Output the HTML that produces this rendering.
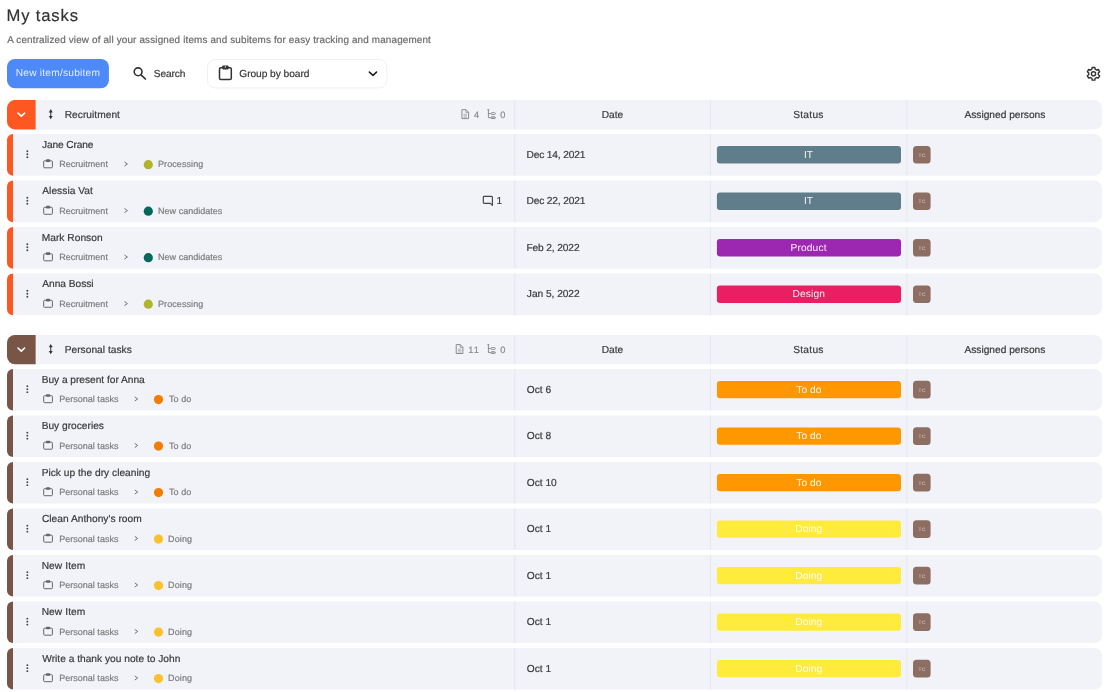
<!DOCTYPE html>
<html lang="en"><head><meta charset="utf-8"><title>My tasks</title>
<style>
html,body{margin:0;padding:0;background:#fff;}
body{width:1110px;height:692px;position:relative;overflow:hidden;font-family:"Liberation Sans", sans-serif;text-rendering:geometricPrecision;}
.bg{position:absolute;left:0;top:0;display:block;}
.t{position:absolute;white-space:pre;line-height:1.2;-webkit-text-stroke:0.2px currentColor;}
</style></head>
<body>
<svg class="bg" width="1110" height="692" viewBox="0 0 1110 692">
<rect x="7.00" y="59.00" width="101.90" height="29.30" rx="8" fill="#4d8af8"/>
<g transform="translate(132.00 66.00)"><circle cx="6.1" cy="5.8" r="3.9" fill="none" stroke="#333" stroke-width="1.6"/><path d="M9.1 8.8 L13.4 13" stroke="#333" stroke-width="1.7" stroke-linecap="round"/></g>
<rect x="207.50" y="59.50" width="179.40" height="28.40" rx="7.5" fill="#fff" stroke="#f0f0f0" stroke-width="1"/>
<g transform="translate(218.00 64.00)"><rect x="1.5" y="3.7" width="11.8" height="11.8" rx="1.3" fill="none" stroke="#333" stroke-width="1.5"/><rect x="4.3" y="1.4" width="6.2" height="4" rx="0.9" fill="#333"/><circle cx="7.4" cy="2.9" r="0.7" fill="#fff"/></g>
<g transform="translate(367.00 69.00)"><path d="M2.4 3.1 L6 6.4 L9.5 3.1" fill="none" stroke="#222" stroke-width="1.6" stroke-linecap="round" stroke-linejoin="round"/></g>
<g transform="translate(1084.50 64.80)"><g fill="none" stroke="#333" stroke-width="1.4" stroke-linejoin="round"><path d="M7.65 2.64 L10.35 2.64 L10.61 4.37 L12.20 5.29 L13.83 4.65 L15.18 6.99 L13.81 8.08 L13.81 9.92 L15.18 11.01 L13.83 13.35 L12.20 12.71 L10.61 13.63 L10.35 15.36 L7.65 15.36 L7.39 13.63 L5.80 12.71 L4.17 13.35 L2.82 11.01 L4.19 9.92 L4.19 8.08 L2.82 6.99 L4.17 4.65 L5.80 5.29 L7.39 4.37 Z"/><circle cx="9" cy="9" r="2.1"/></g></g>
<path d="M35.8 100.10 V129.40 H15.0 A8 8 0 0 1 7.0 121.40 V108.10 A8 8 0 0 1 15.0 100.10 Z" fill="#ff5722"/>
<path d="M35.8 100.10 H1094.2 A8 8 0 0 1 1102.2 108.10 V121.40 A8 8 0 0 1 1094.2 129.40 H35.8 Z" fill="#f1f3f9"/>
<rect x="514.20" y="100.10" width="1.1" height="29.30" fill="#e6e8ef"/>
<rect x="709.90" y="100.10" width="1.1" height="29.30" fill="#e6e8ef"/>
<rect x="906.30" y="100.10" width="1.1" height="29.30" fill="#e6e8ef"/>
<g transform="translate(15.00 109.85)"><path d="M3 3.25 L6.3 6.35 L9.6 3.25" fill="none" stroke="#fff" stroke-width="1.6" stroke-linecap="round" stroke-linejoin="round"/></g>
<g transform="translate(47.00 108.70)"><path d="M3.75 0.4 L5.7 3.7 H1.8 Z M3.75 10.6 L5.7 7.3 H1.8 Z" fill="#333"/><path d="M3.75 3 V8" stroke="#333" stroke-width="1"/></g>
<g transform="translate(461.00 108.70)"><path d="M0.9 1 H5 L7.6 3.6 V9.9 H0.9 Z" fill="none" stroke="#8a8a8a" stroke-width="1" stroke-linejoin="round"/><path d="M4.9 1 V3.7 H7.6" fill="none" stroke="#8a8a8a" stroke-width="0.8"/><path d="M2.5 5.6 H6 M2.5 7.1 H6 M2.5 8.5 H6" stroke="#8a8a8a" stroke-width="0.6"/></g>
<g transform="translate(487.00 108.70)"><path d="M0.4 1 H2.2 M1.4 1 V9 H3.6 M1.4 4.9 H3.6" fill="none" stroke="#8a8a8a" stroke-width="1"/><rect x="3.8" y="4.0" width="4.6" height="1.8" rx="0.9" fill="none" stroke="#8a8a8a" stroke-width="0.9"/><rect x="3.8" y="8.1" width="4.6" height="1.8" rx="0.9" fill="#8a8a8a" fill-opacity="0.5" stroke="#8a8a8a" stroke-width="0.9"/></g>
<path d="M13.0 134.10 V175.70 A6 6 0 0 1 7.0 169.70 V140.10 A6 6 0 0 1 13.0 134.10 Z" fill="#ff5722"/>
<path d="M13.0 134.10 H1094.2 A8 8 0 0 1 1102.2 142.10 V167.70 A8 8 0 0 1 1094.2 175.70 H13.0 Z" fill="#f1f3f9"/>
<rect x="514.20" y="134.10" width="1.1" height="41.60" fill="#e6e8ef"/>
<rect x="709.90" y="134.10" width="1.1" height="41.60" fill="#e6e8ef"/>
<rect x="906.30" y="134.10" width="1.1" height="41.60" fill="#e6e8ef"/>
<rect x="716.90" y="146.00" width="184.10" height="17.45" rx="3" fill="#607d8b"/>
<rect x="913.00" y="145.95" width="17.60" height="17.60" rx="3.5" fill="#8d6e63"/>
<g transform="translate(25.00 149.60)"><circle cx="2.35" cy="1.65" r="0.95" fill="#444"/><circle cx="2.35" cy="4.65" r="0.95" fill="#444"/><circle cx="2.35" cy="7.65" r="0.95" fill="#444"/></g>
<g transform="translate(42.50 158.60)"><rect x="1.2" y="2.2" width="8.7" height="7" rx="0.9" fill="none" stroke="#666" stroke-width="1"/><rect x="3.5" y="0.7" width="4.1" height="2.6" rx="0.7" fill="#666"/></g>
<g transform="translate(122.80 160.60)"><path d="M2.0 1.65 L4.6 3.45 L2.0 5.25" fill="none" stroke="#6a6a6a" stroke-width="0.95" stroke-linecap="round" stroke-linejoin="round"/></g>
<circle cx="148.30" cy="164.70" r="4.6" fill="#afb42b"/>
<path d="M13.0 180.60 V222.20 A6 6 0 0 1 7.0 216.20 V186.60 A6 6 0 0 1 13.0 180.60 Z" fill="#ff5722"/>
<path d="M13.0 180.60 H1094.2 A8 8 0 0 1 1102.2 188.60 V214.20 A8 8 0 0 1 1094.2 222.20 H13.0 Z" fill="#f1f3f9"/>
<rect x="514.20" y="180.60" width="1.1" height="41.60" fill="#e6e8ef"/>
<rect x="709.90" y="180.60" width="1.1" height="41.60" fill="#e6e8ef"/>
<rect x="906.30" y="180.60" width="1.1" height="41.60" fill="#e6e8ef"/>
<rect x="716.90" y="192.50" width="184.10" height="17.45" rx="3" fill="#607d8b"/>
<rect x="913.00" y="192.45" width="17.60" height="17.60" rx="3.5" fill="#8d6e63"/>
<g transform="translate(25.00 196.10)"><circle cx="2.35" cy="1.65" r="0.95" fill="#444"/><circle cx="2.35" cy="4.65" r="0.95" fill="#444"/><circle cx="2.35" cy="7.65" r="0.95" fill="#444"/></g>
<g transform="translate(42.50 205.10)"><rect x="1.2" y="2.2" width="8.7" height="7" rx="0.9" fill="none" stroke="#666" stroke-width="1"/><rect x="3.5" y="0.7" width="4.1" height="2.6" rx="0.7" fill="#666"/></g>
<g transform="translate(122.80 207.10)"><path d="M2.0 1.65 L4.6 3.45 L2.0 5.25" fill="none" stroke="#6a6a6a" stroke-width="0.95" stroke-linecap="round" stroke-linejoin="round"/></g>
<circle cx="148.30" cy="211.20" r="4.6" fill="#00695c"/>
<g transform="translate(482.00 195.60)"><path d="M2.2 0.8 H9.5 a0.9 0.9 0 0 1 0.9 0.9 V9.7 L8.3 7.7 H2.2 a0.9 0.9 0 0 1 -0.9 -0.9 V1.7 a0.9 0.9 0 0 1 0.9 -0.9 Z" fill="none" stroke="#444" stroke-width="1.15" stroke-linejoin="round"/></g>
<path d="M13.0 227.10 V268.70 A6 6 0 0 1 7.0 262.70 V233.10 A6 6 0 0 1 13.0 227.10 Z" fill="#ff5722"/>
<path d="M13.0 227.10 H1094.2 A8 8 0 0 1 1102.2 235.10 V260.70 A8 8 0 0 1 1094.2 268.70 H13.0 Z" fill="#f1f3f9"/>
<rect x="514.20" y="227.10" width="1.1" height="41.60" fill="#e6e8ef"/>
<rect x="709.90" y="227.10" width="1.1" height="41.60" fill="#e6e8ef"/>
<rect x="906.30" y="227.10" width="1.1" height="41.60" fill="#e6e8ef"/>
<rect x="716.90" y="239.00" width="184.10" height="17.45" rx="3" fill="#9c27b0"/>
<rect x="913.00" y="238.95" width="17.60" height="17.60" rx="3.5" fill="#8d6e63"/>
<g transform="translate(25.00 242.60)"><circle cx="2.35" cy="1.65" r="0.95" fill="#444"/><circle cx="2.35" cy="4.65" r="0.95" fill="#444"/><circle cx="2.35" cy="7.65" r="0.95" fill="#444"/></g>
<g transform="translate(42.50 251.60)"><rect x="1.2" y="2.2" width="8.7" height="7" rx="0.9" fill="none" stroke="#666" stroke-width="1"/><rect x="3.5" y="0.7" width="4.1" height="2.6" rx="0.7" fill="#666"/></g>
<g transform="translate(122.80 253.60)"><path d="M2.0 1.65 L4.6 3.45 L2.0 5.25" fill="none" stroke="#6a6a6a" stroke-width="0.95" stroke-linecap="round" stroke-linejoin="round"/></g>
<circle cx="148.30" cy="257.70" r="4.6" fill="#00695c"/>
<path d="M13.0 273.60 V315.20 A6 6 0 0 1 7.0 309.20 V279.60 A6 6 0 0 1 13.0 273.60 Z" fill="#ff5722"/>
<path d="M13.0 273.60 H1094.2 A8 8 0 0 1 1102.2 281.60 V307.20 A8 8 0 0 1 1094.2 315.20 H13.0 Z" fill="#f1f3f9"/>
<rect x="514.20" y="273.60" width="1.1" height="41.60" fill="#e6e8ef"/>
<rect x="709.90" y="273.60" width="1.1" height="41.60" fill="#e6e8ef"/>
<rect x="906.30" y="273.60" width="1.1" height="41.60" fill="#e6e8ef"/>
<rect x="716.90" y="285.50" width="184.10" height="17.45" rx="3" fill="#e91e63"/>
<rect x="913.00" y="285.45" width="17.60" height="17.60" rx="3.5" fill="#8d6e63"/>
<g transform="translate(25.00 289.10)"><circle cx="2.35" cy="1.65" r="0.95" fill="#444"/><circle cx="2.35" cy="4.65" r="0.95" fill="#444"/><circle cx="2.35" cy="7.65" r="0.95" fill="#444"/></g>
<g transform="translate(42.50 298.10)"><rect x="1.2" y="2.2" width="8.7" height="7" rx="0.9" fill="none" stroke="#666" stroke-width="1"/><rect x="3.5" y="0.7" width="4.1" height="2.6" rx="0.7" fill="#666"/></g>
<g transform="translate(122.80 300.10)"><path d="M2.0 1.65 L4.6 3.45 L2.0 5.25" fill="none" stroke="#6a6a6a" stroke-width="0.95" stroke-linecap="round" stroke-linejoin="round"/></g>
<circle cx="148.30" cy="304.20" r="4.6" fill="#afb42b"/>
<path d="M35.8 335.00 V364.30 H15.0 A8 8 0 0 1 7.0 356.30 V343.00 A8 8 0 0 1 15.0 335.00 Z" fill="#795548"/>
<path d="M35.8 335.00 H1094.2 A8 8 0 0 1 1102.2 343.00 V356.30 A8 8 0 0 1 1094.2 364.30 H35.8 Z" fill="#f1f3f9"/>
<rect x="514.20" y="335.00" width="1.1" height="29.30" fill="#e6e8ef"/>
<rect x="709.90" y="335.00" width="1.1" height="29.30" fill="#e6e8ef"/>
<rect x="906.30" y="335.00" width="1.1" height="29.30" fill="#e6e8ef"/>
<g transform="translate(15.00 344.75)"><path d="M3 3.25 L6.3 6.35 L9.6 3.25" fill="none" stroke="#fff" stroke-width="1.6" stroke-linecap="round" stroke-linejoin="round"/></g>
<g transform="translate(47.00 343.60)"><path d="M3.75 0.4 L5.7 3.7 H1.8 Z M3.75 10.6 L5.7 7.3 H1.8 Z" fill="#333"/><path d="M3.75 3 V8" stroke="#333" stroke-width="1"/></g>
<g transform="translate(455.30 343.60)"><path d="M0.9 1 H5 L7.6 3.6 V9.9 H0.9 Z" fill="none" stroke="#8a8a8a" stroke-width="1" stroke-linejoin="round"/><path d="M4.9 1 V3.7 H7.6" fill="none" stroke="#8a8a8a" stroke-width="0.8"/><path d="M2.5 5.6 H6 M2.5 7.1 H6 M2.5 8.5 H6" stroke="#8a8a8a" stroke-width="0.6"/></g>
<g transform="translate(487.00 343.60)"><path d="M0.4 1 H2.2 M1.4 1 V9 H3.6 M1.4 4.9 H3.6" fill="none" stroke="#8a8a8a" stroke-width="1"/><rect x="3.8" y="4.0" width="4.6" height="1.8" rx="0.9" fill="none" stroke="#8a8a8a" stroke-width="0.9"/><rect x="3.8" y="8.1" width="4.6" height="1.8" rx="0.9" fill="#8a8a8a" fill-opacity="0.5" stroke="#8a8a8a" stroke-width="0.9"/></g>
<path d="M13.0 369.00 V410.60 A6 6 0 0 1 7.0 404.60 V375.00 A6 6 0 0 1 13.0 369.00 Z" fill="#795548"/>
<path d="M13.0 369.00 H1094.2 A8 8 0 0 1 1102.2 377.00 V402.60 A8 8 0 0 1 1094.2 410.60 H13.0 Z" fill="#f1f3f9"/>
<rect x="514.20" y="369.00" width="1.1" height="41.60" fill="#e6e8ef"/>
<rect x="709.90" y="369.00" width="1.1" height="41.60" fill="#e6e8ef"/>
<rect x="906.30" y="369.00" width="1.1" height="41.60" fill="#e6e8ef"/>
<rect x="716.90" y="380.90" width="184.10" height="17.45" rx="3" fill="#ff9800"/>
<rect x="913.00" y="380.85" width="17.60" height="17.60" rx="3.5" fill="#8d6e63"/>
<g transform="translate(25.00 384.50)"><circle cx="2.35" cy="1.65" r="0.95" fill="#444"/><circle cx="2.35" cy="4.65" r="0.95" fill="#444"/><circle cx="2.35" cy="7.65" r="0.95" fill="#444"/></g>
<g transform="translate(42.50 393.50)"><rect x="1.2" y="2.2" width="8.7" height="7" rx="0.9" fill="none" stroke="#666" stroke-width="1"/><rect x="3.5" y="0.7" width="4.1" height="2.6" rx="0.7" fill="#666"/></g>
<g transform="translate(133.10 395.50)"><path d="M2.0 1.65 L4.6 3.45 L2.0 5.25" fill="none" stroke="#6a6a6a" stroke-width="0.95" stroke-linecap="round" stroke-linejoin="round"/></g>
<circle cx="158.50" cy="399.60" r="4.6" fill="#f57c00"/>
<path d="M13.0 415.50 V457.10 A6 6 0 0 1 7.0 451.10 V421.50 A6 6 0 0 1 13.0 415.50 Z" fill="#795548"/>
<path d="M13.0 415.50 H1094.2 A8 8 0 0 1 1102.2 423.50 V449.10 A8 8 0 0 1 1094.2 457.10 H13.0 Z" fill="#f1f3f9"/>
<rect x="514.20" y="415.50" width="1.1" height="41.60" fill="#e6e8ef"/>
<rect x="709.90" y="415.50" width="1.1" height="41.60" fill="#e6e8ef"/>
<rect x="906.30" y="415.50" width="1.1" height="41.60" fill="#e6e8ef"/>
<rect x="716.90" y="427.40" width="184.10" height="17.45" rx="3" fill="#ff9800"/>
<rect x="913.00" y="427.35" width="17.60" height="17.60" rx="3.5" fill="#8d6e63"/>
<g transform="translate(25.00 431.00)"><circle cx="2.35" cy="1.65" r="0.95" fill="#444"/><circle cx="2.35" cy="4.65" r="0.95" fill="#444"/><circle cx="2.35" cy="7.65" r="0.95" fill="#444"/></g>
<g transform="translate(42.50 440.00)"><rect x="1.2" y="2.2" width="8.7" height="7" rx="0.9" fill="none" stroke="#666" stroke-width="1"/><rect x="3.5" y="0.7" width="4.1" height="2.6" rx="0.7" fill="#666"/></g>
<g transform="translate(133.10 442.00)"><path d="M2.0 1.65 L4.6 3.45 L2.0 5.25" fill="none" stroke="#6a6a6a" stroke-width="0.95" stroke-linecap="round" stroke-linejoin="round"/></g>
<circle cx="158.50" cy="446.10" r="4.6" fill="#f57c00"/>
<path d="M13.0 462.00 V503.60 A6 6 0 0 1 7.0 497.60 V468.00 A6 6 0 0 1 13.0 462.00 Z" fill="#795548"/>
<path d="M13.0 462.00 H1094.2 A8 8 0 0 1 1102.2 470.00 V495.60 A8 8 0 0 1 1094.2 503.60 H13.0 Z" fill="#f1f3f9"/>
<rect x="514.20" y="462.00" width="1.1" height="41.60" fill="#e6e8ef"/>
<rect x="709.90" y="462.00" width="1.1" height="41.60" fill="#e6e8ef"/>
<rect x="906.30" y="462.00" width="1.1" height="41.60" fill="#e6e8ef"/>
<rect x="716.90" y="473.90" width="184.10" height="17.45" rx="3" fill="#ff9800"/>
<rect x="913.00" y="473.85" width="17.60" height="17.60" rx="3.5" fill="#8d6e63"/>
<g transform="translate(25.00 477.50)"><circle cx="2.35" cy="1.65" r="0.95" fill="#444"/><circle cx="2.35" cy="4.65" r="0.95" fill="#444"/><circle cx="2.35" cy="7.65" r="0.95" fill="#444"/></g>
<g transform="translate(42.50 486.50)"><rect x="1.2" y="2.2" width="8.7" height="7" rx="0.9" fill="none" stroke="#666" stroke-width="1"/><rect x="3.5" y="0.7" width="4.1" height="2.6" rx="0.7" fill="#666"/></g>
<g transform="translate(133.10 488.50)"><path d="M2.0 1.65 L4.6 3.45 L2.0 5.25" fill="none" stroke="#6a6a6a" stroke-width="0.95" stroke-linecap="round" stroke-linejoin="round"/></g>
<circle cx="158.50" cy="492.60" r="4.6" fill="#f57c00"/>
<path d="M13.0 508.50 V550.10 A6 6 0 0 1 7.0 544.10 V514.50 A6 6 0 0 1 13.0 508.50 Z" fill="#795548"/>
<path d="M13.0 508.50 H1094.2 A8 8 0 0 1 1102.2 516.50 V542.10 A8 8 0 0 1 1094.2 550.10 H13.0 Z" fill="#f1f3f9"/>
<rect x="514.20" y="508.50" width="1.1" height="41.60" fill="#e6e8ef"/>
<rect x="709.90" y="508.50" width="1.1" height="41.60" fill="#e6e8ef"/>
<rect x="906.30" y="508.50" width="1.1" height="41.60" fill="#e6e8ef"/>
<rect x="716.90" y="520.40" width="184.10" height="17.45" rx="3" fill="#ffeb3b"/>
<rect x="913.00" y="520.35" width="17.60" height="17.60" rx="3.5" fill="#8d6e63"/>
<g transform="translate(25.00 524.00)"><circle cx="2.35" cy="1.65" r="0.95" fill="#444"/><circle cx="2.35" cy="4.65" r="0.95" fill="#444"/><circle cx="2.35" cy="7.65" r="0.95" fill="#444"/></g>
<g transform="translate(42.50 533.00)"><rect x="1.2" y="2.2" width="8.7" height="7" rx="0.9" fill="none" stroke="#666" stroke-width="1"/><rect x="3.5" y="0.7" width="4.1" height="2.6" rx="0.7" fill="#666"/></g>
<g transform="translate(133.10 535.00)"><path d="M2.0 1.65 L4.6 3.45 L2.0 5.25" fill="none" stroke="#6a6a6a" stroke-width="0.95" stroke-linecap="round" stroke-linejoin="round"/></g>
<circle cx="158.50" cy="539.10" r="4.6" fill="#fbc02d"/>
<path d="M13.0 555.00 V596.60 A6 6 0 0 1 7.0 590.60 V561.00 A6 6 0 0 1 13.0 555.00 Z" fill="#795548"/>
<path d="M13.0 555.00 H1094.2 A8 8 0 0 1 1102.2 563.00 V588.60 A8 8 0 0 1 1094.2 596.60 H13.0 Z" fill="#f1f3f9"/>
<rect x="514.20" y="555.00" width="1.1" height="41.60" fill="#e6e8ef"/>
<rect x="709.90" y="555.00" width="1.1" height="41.60" fill="#e6e8ef"/>
<rect x="906.30" y="555.00" width="1.1" height="41.60" fill="#e6e8ef"/>
<rect x="716.90" y="566.90" width="184.10" height="17.45" rx="3" fill="#ffeb3b"/>
<rect x="913.00" y="566.85" width="17.60" height="17.60" rx="3.5" fill="#8d6e63"/>
<g transform="translate(25.00 570.50)"><circle cx="2.35" cy="1.65" r="0.95" fill="#444"/><circle cx="2.35" cy="4.65" r="0.95" fill="#444"/><circle cx="2.35" cy="7.65" r="0.95" fill="#444"/></g>
<g transform="translate(42.50 579.50)"><rect x="1.2" y="2.2" width="8.7" height="7" rx="0.9" fill="none" stroke="#666" stroke-width="1"/><rect x="3.5" y="0.7" width="4.1" height="2.6" rx="0.7" fill="#666"/></g>
<g transform="translate(133.10 581.50)"><path d="M2.0 1.65 L4.6 3.45 L2.0 5.25" fill="none" stroke="#6a6a6a" stroke-width="0.95" stroke-linecap="round" stroke-linejoin="round"/></g>
<circle cx="158.50" cy="585.60" r="4.6" fill="#fbc02d"/>
<path d="M13.0 601.50 V643.10 A6 6 0 0 1 7.0 637.10 V607.50 A6 6 0 0 1 13.0 601.50 Z" fill="#795548"/>
<path d="M13.0 601.50 H1094.2 A8 8 0 0 1 1102.2 609.50 V635.10 A8 8 0 0 1 1094.2 643.10 H13.0 Z" fill="#f1f3f9"/>
<rect x="514.20" y="601.50" width="1.1" height="41.60" fill="#e6e8ef"/>
<rect x="709.90" y="601.50" width="1.1" height="41.60" fill="#e6e8ef"/>
<rect x="906.30" y="601.50" width="1.1" height="41.60" fill="#e6e8ef"/>
<rect x="716.90" y="613.40" width="184.10" height="17.45" rx="3" fill="#ffeb3b"/>
<rect x="913.00" y="613.35" width="17.60" height="17.60" rx="3.5" fill="#8d6e63"/>
<g transform="translate(25.00 617.00)"><circle cx="2.35" cy="1.65" r="0.95" fill="#444"/><circle cx="2.35" cy="4.65" r="0.95" fill="#444"/><circle cx="2.35" cy="7.65" r="0.95" fill="#444"/></g>
<g transform="translate(42.50 626.00)"><rect x="1.2" y="2.2" width="8.7" height="7" rx="0.9" fill="none" stroke="#666" stroke-width="1"/><rect x="3.5" y="0.7" width="4.1" height="2.6" rx="0.7" fill="#666"/></g>
<g transform="translate(133.10 628.00)"><path d="M2.0 1.65 L4.6 3.45 L2.0 5.25" fill="none" stroke="#6a6a6a" stroke-width="0.95" stroke-linecap="round" stroke-linejoin="round"/></g>
<circle cx="158.50" cy="632.10" r="4.6" fill="#fbc02d"/>
<path d="M13.0 648.00 V689.60 A6 6 0 0 1 7.0 683.60 V654.00 A6 6 0 0 1 13.0 648.00 Z" fill="#795548"/>
<path d="M13.0 648.00 H1094.2 A8 8 0 0 1 1102.2 656.00 V681.60 A8 8 0 0 1 1094.2 689.60 H13.0 Z" fill="#f1f3f9"/>
<rect x="514.20" y="648.00" width="1.1" height="41.60" fill="#e6e8ef"/>
<rect x="709.90" y="648.00" width="1.1" height="41.60" fill="#e6e8ef"/>
<rect x="906.30" y="648.00" width="1.1" height="41.60" fill="#e6e8ef"/>
<rect x="716.90" y="659.90" width="184.10" height="17.45" rx="3" fill="#ffeb3b"/>
<rect x="913.00" y="659.85" width="17.60" height="17.60" rx="3.5" fill="#8d6e63"/>
<g transform="translate(25.00 663.50)"><circle cx="2.35" cy="1.65" r="0.95" fill="#444"/><circle cx="2.35" cy="4.65" r="0.95" fill="#444"/><circle cx="2.35" cy="7.65" r="0.95" fill="#444"/></g>
<g transform="translate(42.50 672.50)"><rect x="1.2" y="2.2" width="8.7" height="7" rx="0.9" fill="none" stroke="#666" stroke-width="1"/><rect x="3.5" y="0.7" width="4.1" height="2.6" rx="0.7" fill="#666"/></g>
<g transform="translate(133.10 674.50)"><path d="M2.0 1.65 L4.6 3.45 L2.0 5.25" fill="none" stroke="#6a6a6a" stroke-width="0.95" stroke-linecap="round" stroke-linejoin="round"/></g>
<circle cx="158.50" cy="678.60" r="4.6" fill="#fbc02d"/>
</svg>
<header class="page-head">
<span class="t" style="left:6.53px;top:6.19px;font-size:16.6px;letter-spacing:0.857px;color:#333;">My tasks</span>
<span class="t" style="left:7.26px;top:35.03px;font-size:9.9px;letter-spacing:0.157px;color:#6b6b6b;">A centralized view of all your assigned items and subitems for easy tracking and management</span>
</header>
<nav class="toolbar">
<span class="t" style="left:15.77px;top:68.35px;font-size:10.2px;letter-spacing:0.215px;color:#e3edff;-webkit-text-stroke:0;">New item/subitem</span>
<span class="t" style="left:153.79px;top:68.55px;font-size:10.2px;letter-spacing:-0.116px;color:#3a3a3a;">Search</span>
<span class="t" style="left:239.25px;top:68.55px;font-size:10.2px;letter-spacing:-0.049px;color:#3a3a3a;">Group by board</span>
</nav>
<section class="group">
<div class="group-head">
<span class="t" style="left:64.67px;top:109.75px;font-size:10.2px;letter-spacing:0.038px;color:#3a3a3a;">Recruitment</span>
<span class="t" style="left:474.02px;top:110.19px;font-size:9.2px;letter-spacing:0.000px;color:#8a8a8a;">4</span>
<span class="t" style="left:500.15px;top:110.19px;font-size:9.2px;letter-spacing:0.000px;color:#8a8a8a;">0</span>
<span class="t" style="left:601.67px;top:109.75px;font-size:10.2px;letter-spacing:0.029px;color:#3a3a3a;">Date</span>
<span class="t" style="left:793.19px;top:109.75px;font-size:10.2px;letter-spacing:0.280px;color:#3a3a3a;">Status</span>
<span class="t" style="left:964.46px;top:109.75px;font-size:10.2px;letter-spacing:-0.007px;color:#3a3a3a;">Assigned persons</span>
</div>
<div class="item">
<span class="t" style="left:42.05px;top:139.75px;font-size:10.2px;letter-spacing:-0.152px;color:#3a3a3a;">Jane Crane</span>
<span class="t" style="left:59.26px;top:159.18px;font-size:9.0px;letter-spacing:0.012px;color:#7d7d7d;">Recruitment</span>
<span class="t" style="left:158.06px;top:159.18px;font-size:9.0px;letter-spacing:0.072px;color:#7d7d7d;">Processing</span>
<span class="t" style="left:526.47px;top:149.75px;font-size:10.2px;letter-spacing:-0.155px;color:#3a3a3a;">Dec 14, 2021</span>
<span class="t" style="left:803.97px;top:149.75px;font-size:10.2px;letter-spacing:-0.008px;color:#fff;-webkit-text-stroke:0;opacity:0.93;">IT</span>
<span class="t" style="left:918.52px;top:153.76px;font-size:4.8px;letter-spacing:0.602px;color:#dfcdc6;-webkit-text-stroke:0;">TC</span>
</div>
<div class="item">
<span class="t" style="left:42.26px;top:186.25px;font-size:10.2px;letter-spacing:0.043px;color:#3a3a3a;">Alessia Vat</span>
<span class="t" style="left:59.26px;top:205.68px;font-size:9.0px;letter-spacing:0.012px;color:#7d7d7d;">Recruitment</span>
<span class="t" style="left:158.06px;top:205.68px;font-size:9.0px;letter-spacing:0.019px;color:#7d7d7d;">New candidates</span>
<span class="t" style="left:526.47px;top:196.25px;font-size:10.2px;letter-spacing:-0.146px;color:#3a3a3a;">Dec 22, 2021</span>
<span class="t" style="left:803.97px;top:196.25px;font-size:10.2px;letter-spacing:-0.008px;color:#fff;-webkit-text-stroke:0;opacity:0.93;">IT</span>
<span class="t" style="left:918.52px;top:200.26px;font-size:4.8px;letter-spacing:0.602px;color:#dfcdc6;-webkit-text-stroke:0;">TC</span>
<span class="t" style="left:496.47px;top:196.25px;font-size:10.2px;letter-spacing:0.000px;color:#3a3a3a;">1</span>
</div>
<div class="item">
<span class="t" style="left:41.67px;top:232.75px;font-size:10.2px;letter-spacing:0.036px;color:#3a3a3a;">Mark Ronson</span>
<span class="t" style="left:59.26px;top:252.18px;font-size:9.0px;letter-spacing:0.012px;color:#7d7d7d;">Recruitment</span>
<span class="t" style="left:158.06px;top:252.18px;font-size:9.0px;letter-spacing:0.019px;color:#7d7d7d;">New candidates</span>
<span class="t" style="left:526.47px;top:242.75px;font-size:10.2px;letter-spacing:-0.129px;color:#3a3a3a;">Feb 2, 2022</span>
<span class="t" style="left:790.47px;top:242.75px;font-size:10.2px;letter-spacing:0.152px;color:#fff;-webkit-text-stroke:0;opacity:0.93;">Product</span>
<span class="t" style="left:918.52px;top:246.76px;font-size:4.8px;letter-spacing:0.602px;color:#dfcdc6;-webkit-text-stroke:0;">TC</span>
</div>
<div class="item">
<span class="t" style="left:42.26px;top:279.25px;font-size:10.2px;letter-spacing:-0.018px;color:#3a3a3a;">Anna Bossi</span>
<span class="t" style="left:59.26px;top:298.68px;font-size:9.0px;letter-spacing:0.012px;color:#7d7d7d;">Recruitment</span>
<span class="t" style="left:158.06px;top:298.68px;font-size:9.0px;letter-spacing:0.072px;color:#7d7d7d;">Processing</span>
<span class="t" style="left:526.85px;top:289.25px;font-size:10.2px;letter-spacing:-0.043px;color:#3a3a3a;">Jan 5, 2022</span>
<span class="t" style="left:792.57px;top:289.25px;font-size:10.2px;letter-spacing:0.131px;color:#fff;-webkit-text-stroke:0;opacity:0.93;">Design</span>
<span class="t" style="left:918.52px;top:293.26px;font-size:4.8px;letter-spacing:0.602px;color:#dfcdc6;-webkit-text-stroke:0;">TC</span>
</div>
</section>
<section class="group">
<div class="group-head">
<span class="t" style="left:64.67px;top:344.65px;font-size:10.2px;letter-spacing:0.024px;color:#3a3a3a;">Personal tasks</span>
<span class="t" style="left:468.22px;top:345.09px;font-size:9.2px;letter-spacing:1.143px;color:#8a8a8a;">11</span>
<span class="t" style="left:500.15px;top:345.09px;font-size:9.2px;letter-spacing:0.000px;color:#8a8a8a;">0</span>
<span class="t" style="left:601.67px;top:344.65px;font-size:10.2px;letter-spacing:0.029px;color:#3a3a3a;">Date</span>
<span class="t" style="left:793.19px;top:344.65px;font-size:10.2px;letter-spacing:0.280px;color:#3a3a3a;">Status</span>
<span class="t" style="left:964.46px;top:344.65px;font-size:10.2px;letter-spacing:-0.007px;color:#3a3a3a;">Assigned persons</span>
</div>
<div class="item">
<span class="t" style="left:41.67px;top:374.65px;font-size:10.2px;letter-spacing:-0.029px;color:#3a3a3a;">Buy a present for Anna</span>
<span class="t" style="left:59.26px;top:394.08px;font-size:9.0px;letter-spacing:0.011px;color:#7d7d7d;">Personal tasks</span>
<span class="t" style="left:168.99px;top:394.08px;font-size:9.0px;letter-spacing:0.085px;color:#7d7d7d;">To do</span>
<span class="t" style="left:526.77px;top:384.65px;font-size:10.2px;letter-spacing:-0.011px;color:#3a3a3a;">Oct 6</span>
<span class="t" style="left:796.31px;top:384.65px;font-size:10.2px;letter-spacing:0.063px;color:#fff;-webkit-text-stroke:0;opacity:0.93;">To do</span>
<span class="t" style="left:918.52px;top:388.66px;font-size:4.8px;letter-spacing:0.602px;color:#dfcdc6;-webkit-text-stroke:0;">TC</span>
</div>
<div class="item">
<span class="t" style="left:41.67px;top:421.15px;font-size:10.2px;letter-spacing:-0.003px;color:#3a3a3a;">Buy groceries</span>
<span class="t" style="left:59.26px;top:440.58px;font-size:9.0px;letter-spacing:0.011px;color:#7d7d7d;">Personal tasks</span>
<span class="t" style="left:168.99px;top:440.58px;font-size:9.0px;letter-spacing:0.085px;color:#7d7d7d;">To do</span>
<span class="t" style="left:526.77px;top:431.15px;font-size:10.2px;letter-spacing:0.001px;color:#3a3a3a;">Oct 8</span>
<span class="t" style="left:796.31px;top:431.15px;font-size:10.2px;letter-spacing:0.063px;color:#fff;-webkit-text-stroke:0;opacity:0.93;">To do</span>
<span class="t" style="left:918.52px;top:435.16px;font-size:4.8px;letter-spacing:0.602px;color:#dfcdc6;-webkit-text-stroke:0;">TC</span>
</div>
<div class="item">
<span class="t" style="left:41.67px;top:467.65px;font-size:10.2px;letter-spacing:0.011px;color:#3a3a3a;">Pick up the dry cleaning</span>
<span class="t" style="left:59.26px;top:487.08px;font-size:9.0px;letter-spacing:0.011px;color:#7d7d7d;">Personal tasks</span>
<span class="t" style="left:168.99px;top:487.08px;font-size:9.0px;letter-spacing:0.085px;color:#7d7d7d;">To do</span>
<span class="t" style="left:526.77px;top:477.65px;font-size:10.2px;letter-spacing:-0.010px;color:#3a3a3a;">Oct 10</span>
<span class="t" style="left:796.31px;top:477.65px;font-size:10.2px;letter-spacing:0.063px;color:#fff;-webkit-text-stroke:0;opacity:0.93;">To do</span>
<span class="t" style="left:918.52px;top:481.66px;font-size:4.8px;letter-spacing:0.602px;color:#dfcdc6;-webkit-text-stroke:0;">TC</span>
</div>
<div class="item">
<span class="t" style="left:41.95px;top:514.15px;font-size:10.2px;letter-spacing:0.021px;color:#3a3a3a;">Clean Anthony's room</span>
<span class="t" style="left:59.26px;top:533.58px;font-size:9.0px;letter-spacing:0.011px;color:#7d7d7d;">Personal tasks</span>
<span class="t" style="left:168.06px;top:533.58px;font-size:9.0px;letter-spacing:0.137px;color:#7d7d7d;">Doing</span>
<span class="t" style="left:526.77px;top:524.15px;font-size:10.2px;letter-spacing:0.038px;color:#3a3a3a;">Oct 1</span>
<span class="t" style="left:795.17px;top:524.15px;font-size:10.2px;letter-spacing:0.112px;color:#fff;-webkit-text-stroke:0;opacity:0.93;">Doing</span>
<span class="t" style="left:918.52px;top:528.16px;font-size:4.8px;letter-spacing:0.602px;color:#dfcdc6;-webkit-text-stroke:0;">TC</span>
</div>
<div class="item">
<span class="t" style="left:41.67px;top:560.65px;font-size:10.2px;letter-spacing:0.088px;color:#3a3a3a;">New Item</span>
<span class="t" style="left:59.26px;top:580.08px;font-size:9.0px;letter-spacing:0.011px;color:#7d7d7d;">Personal tasks</span>
<span class="t" style="left:168.06px;top:580.08px;font-size:9.0px;letter-spacing:0.137px;color:#7d7d7d;">Doing</span>
<span class="t" style="left:526.77px;top:570.65px;font-size:10.2px;letter-spacing:0.038px;color:#3a3a3a;">Oct 1</span>
<span class="t" style="left:795.17px;top:570.65px;font-size:10.2px;letter-spacing:0.112px;color:#fff;-webkit-text-stroke:0;opacity:0.93;">Doing</span>
<span class="t" style="left:918.52px;top:574.66px;font-size:4.8px;letter-spacing:0.602px;color:#dfcdc6;-webkit-text-stroke:0;">TC</span>
</div>
<div class="item">
<span class="t" style="left:41.67px;top:607.15px;font-size:10.2px;letter-spacing:0.088px;color:#3a3a3a;">New Item</span>
<span class="t" style="left:59.26px;top:626.58px;font-size:9.0px;letter-spacing:0.011px;color:#7d7d7d;">Personal tasks</span>
<span class="t" style="left:168.06px;top:626.58px;font-size:9.0px;letter-spacing:0.137px;color:#7d7d7d;">Doing</span>
<span class="t" style="left:526.77px;top:617.15px;font-size:10.2px;letter-spacing:0.038px;color:#3a3a3a;">Oct 1</span>
<span class="t" style="left:795.17px;top:617.15px;font-size:10.2px;letter-spacing:0.112px;color:#fff;-webkit-text-stroke:0;opacity:0.93;">Doing</span>
<span class="t" style="left:918.52px;top:621.16px;font-size:4.8px;letter-spacing:0.602px;color:#dfcdc6;-webkit-text-stroke:0;">TC</span>
</div>
<div class="item">
<span class="t" style="left:42.28px;top:653.65px;font-size:10.2px;letter-spacing:0.002px;color:#3a3a3a;">Write a thank you note to John</span>
<span class="t" style="left:59.26px;top:673.08px;font-size:9.0px;letter-spacing:0.011px;color:#7d7d7d;">Personal tasks</span>
<span class="t" style="left:168.06px;top:673.08px;font-size:9.0px;letter-spacing:0.137px;color:#7d7d7d;">Doing</span>
<span class="t" style="left:526.77px;top:663.65px;font-size:10.2px;letter-spacing:0.038px;color:#3a3a3a;">Oct 1</span>
<span class="t" style="left:795.17px;top:663.65px;font-size:10.2px;letter-spacing:0.112px;color:#fff;-webkit-text-stroke:0;opacity:0.93;">Doing</span>
<span class="t" style="left:918.52px;top:667.66px;font-size:4.8px;letter-spacing:0.602px;color:#dfcdc6;-webkit-text-stroke:0;">TC</span>
</div>
</section>
</body></html>
